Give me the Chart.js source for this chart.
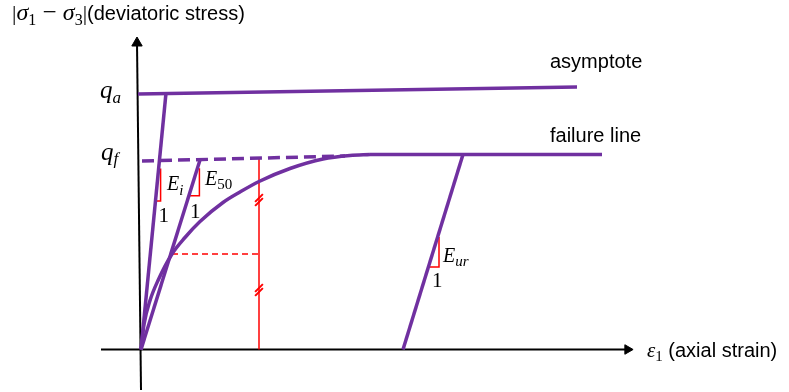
<!DOCTYPE html>
<html>
<head>
<meta charset="utf-8">
<style>
  html, body { margin: 0; padding: 0; background: #fff; }
  canvas { display: block; }
</style>
<script src="https://cdn.jsdelivr.net/npm/chart.js@4.4.1/dist/chart.umd.min.js"></script>
</head>
<body>
<canvas id="stressStrain" width="789" height="392"></canvas>
<script>
// strain in 0.05 % steps, deviatoric stress in kPa (schematic values)

// hyperbolic loading curve
const curveStrain = [0, 0.15, 0.45, 0.85, 1.55, 2.2, 2.95, 4.1, 4.95, 5.9, 7.45, 9.1, 10.45, 11.45];
const curveStress = [0, 25, 49, 69, 95.5, 112, 128, 147, 157.5, 168, 181, 190.5, 194, 195];

// asymptote q_a and failure line q_f
const asymStrain = [-0.15, 21.8];
const asymStress = [255.5, 262.5];
const failStrain = [11.45, 23.05];
const failStress = [195, 195];
const failDashStrain = [0.05, 10.2];
const failDashStress = [188.5, 193.5];

// moduli lines
const eiStrain = [0, 1.25];
const eiStress = [0, 256.5];
const e50Strain = [0, 2.95];
const e50Stress = [0, 189.5];
const eurStrain = [13.1, 16.1];
const eurStress = [0, 195];

// half-peak construction
const halfStrain = [1.55, 5.9];
const halfStress = [95.5, 95.5];
const peakStrain = [5.9, 5.9];
const peakStress = [0, 192];
const tickStrain = [5.9, 5.9, 5.9, 5.9];
const tickStress = [151.5, 147.5, 61.5, 57.5];

// slope triangles
const eiTriStrain = [0.75, 0.98, 0.98];
const eiTriStress = [148.5, 148.5, 181];
const e50TriStrain = [2.42, 2.92, 2.92];
const e50TriStress = [153.8, 153.8, 181.2];
const eurTriStrain = [14.37, 14.9, 14.9];
const eurTriStress = [82.5, 82.5, 112.5];

// axes
const xAxisStrain = [-2, 24.33];
const xAxisStress = [0, 0];
const yAxisStrain = [0, -0.2];
const yAxisStress = [-40.5, 306.5];

const PURPLE = '#7030a0';
const RED = '#ff0000';
const SERIF = '"Liberation Serif", serif';
const SANS = '"Liberation Sans", Arial, sans-serif';

function pts(xs, ys) {
    return xs.map((x, i) => ({ x: x, y: ys[i] }));
}

function line(xs, ys, color, width, extra) {
    return Object.assign({
        data: pts(xs, ys),
        showLine: true,
        borderColor: color,
        backgroundColor: color,
        borderWidth: width,
        pointRadius: 0,
        fill: false,
        tension: 0
    }, extra || {});
}

// text pieces: [text, font, baseline shift]
const annotations = [
    { x: -6.45, y: 329.5, runs: [
        ['|', '22px ' + SERIF, 0], ['σ', 'italic 24px ' + SERIF, 0], ['1', '16px ' + SERIF, 5],
        [' − ', '25px ' + SERIF, 0], ['σ', 'italic 24px ' + SERIF, 0], ['3', '16px ' + SERIF, 5],
        ['|', '22px ' + SERIF, 0], ['(deviatoric stress)', '20px ' + SANS, 0]] },
    { x: -2.05, y: 251.5, runs: [['q', 'italic 25px ' + SERIF, 0], ['a', 'italic 17px ' + SERIF, 5]] },
    { x: -2.0, y: 189.5, runs: [['q', 'italic 25px ' + SERIF, 0], ['f', 'italic 17px ' + SERIF, 4]] },
    { x: 1.3, y: 159.5, runs: [['E', 'italic 20px ' + SERIF, 0], ['i', 'italic 15px ' + SERIF, 5]] },
    { x: 0.875, y: 127.5, runs: [['1', '21px ' + SERIF, 0]] },
    { x: 3.2, y: 164.5, runs: [['E', 'italic 20px ' + SERIF, 0], ['50', '15px ' + SERIF, 4]] },
    { x: 2.45, y: 131.5, runs: [['1', '21px ' + SERIF, 0]] },
    { x: 15.1, y: 87.5, runs: [['E', 'italic 20px ' + SERIF, 0], ['ur', 'italic 15px ' + SERIF, 4]] },
    { x: 14.55, y: 62.5, runs: [['1', '21px ' + SERIF, 0]] },
    { x: 20.45, y: 281.5, runs: [['asymptote', '20px ' + SANS, 0]] },
    { x: 20.45, y: 207.5, runs: [['failure line', '20px ' + SANS, 0]] },
    { x: 25.3, y: -7.5, runs: [['ε', 'italic 21px ' + SERIF, 0], ['1', '15px ' + SERIF, 4],
        [' (axial strain)', '20px ' + SANS, 0]] }
];

const textPlugin = {
    id: 'mathText',
    afterDatasetsDraw(chart) {
        const ctx = chart.ctx;
        const sx = chart.scales.x;
        const sy = chart.scales.y;
        ctx.save();
        ctx.fillStyle = '#000';
        ctx.textBaseline = 'alphabetic';
        ctx.textAlign = 'left';
        annotations.forEach(a => {
            let x = sx.getPixelForValue(a.x);
            const y = sy.getPixelForValue(a.y);
            a.runs.forEach(([t, font, dy]) => {
                ctx.font = font;
                ctx.fillText(t, x, y + dy);
                x += ctx.measureText(t).width;
            });
        });
        ctx.restore();
    }
};

new Chart(document.getElementById('stressStrain'), {
    type: 'scatter',
    data: {
        datasets: [
            line(curveStrain, curveStress, PURPLE, 3.5, { cubicInterpolationMode: 'monotone' }),
            line(asymStrain, asymStress, PURPLE, 3.5),
            line(failStrain, failStress, PURPLE, 3.5),
            line(failDashStrain, failDashStress, PURPLE, 3.5, { borderDash: [12, 6] }),
            line(eiStrain, eiStress, PURPLE, 3.5),
            line(e50Strain, e50Stress, PURPLE, 3.5),
            line(eurStrain, eurStress, PURPLE, 3.5),
            line(halfStrain, halfStress, RED, 1.5, { borderDash: [6, 4] }),
            line(peakStrain, peakStress, RED, 1.5),
            line(eiTriStrain, eiTriStress, RED, 1.5),
            line(e50TriStrain, e50TriStress, RED, 1.5),
            line(eurTriStrain, eurTriStress, RED, 1.5),
            {
                // double slash marks on the peak line
                data: pts(tickStrain, tickStress),
                showLine: false,
                pointStyle: 'line',
                pointRadius: 5.5,
                pointRotation: -45,
                pointBorderColor: RED,
                pointBorderWidth: 2
            },
            line(xAxisStrain, xAxisStress, '#000', 2, {
                pointRadius: [0, 5.5], pointStyle: 'triangle', pointRotation: 90,
                pointBackgroundColor: '#000', pointBorderColor: '#000', pointBorderWidth: 1
            }),
            line(yAxisStrain, yAxisStress, '#000', 2, {
                pointRadius: [0, 6], pointStyle: 'triangle', pointRotation: 0,
                pointBackgroundColor: '#000', pointBorderColor: '#000', pointBorderWidth: 1
            })
        ]
    },
    options: {
        responsive: false,
        animation: false,
        layout: { padding: 0, autoPadding: false },
        plugins: {
            legend: { display: false },
            tooltip: { enabled: false }
        },
        scales: {
            x: { type: 'linear', display: false, min: -7.05, max: 32.4 },
            y: { type: 'linear', display: false, min: -42.5, max: 349.5 }
        }
    },
    plugins: [textPlugin]
});
</script>
</body>
</html>
